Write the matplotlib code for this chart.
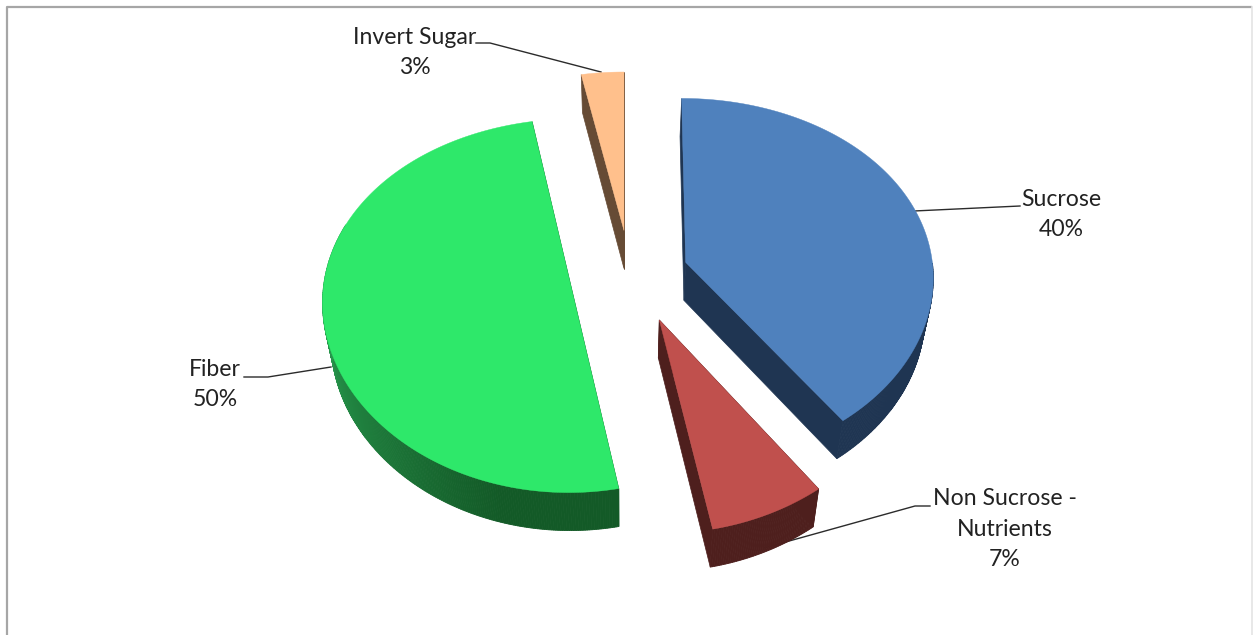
import matplotlib.pyplot as plt
import numpy as np

labels = ["Sucrose", "Non Sucrose -\nNutrients", "Fiber", "Invert Sugar"]
values = [40, 7, 50, 3]

top_colors = ["#4F81BD", "#C0504D", "#2EE86A", "#FFC08C"]
side_colors = ["#1F3552", "#4E1F1D", "#135A27", "#664B35"]
rim_light = [None, None, "#2AA052", None]

# slice offsets in the pie plane, unit = radius
offsets = [(0.25, 0.135), (0.14, -0.175), (-0.207, 0.0), (0.0, 0.315)]
label_pos = [(1061, 214.5), (1005, 529), (215, 384.5), (415, 52.5)]
leaders = [
    [(1020, 206), (914, 211)],
    [(930, 506), (915, 506), (764, 548)],
    [(244, 377), (268, 377), (331, 367)],
    [(476, 43), (490, 43), (601, 72)],
]

CX, CY = 624, 287
A, B = 249, 185
K_X, K_Y = 0.07, 0.1
DEPTH = 38
BOTTOM_SHRINK = 0.972


def project(u, v):
    """Pie plane to pixels, with a bit of perspective (far side is smaller)."""
    return CX + A * u / (1 + K_X * v), CY - B * v / (1 + K_Y * v)


def drop(x, y):
    return CX + (x - CX) * BOTTOM_SHRINK, y + DEPTH


def draw_slice(ax, start, sweep, offset, top, side, light):
    du, dv = offset
    angles = np.radians(np.linspace(start, start + sweep, int(sweep * 2) + 2))
    ax_x, ax_y = project(du, dv)
    rim_x, rim_y = project(du + np.sin(angles), dv + np.cos(angles))
    if sweep >= 180:
        # half pie: keep the cut straight, the two projections differ a bit
        ax_x, ax_y = (rim_x[0] + rim_x[-1]) / 2, (rim_y[0] + rim_y[-1]) / 2
    low_x, low_y = drop(rim_x, rim_y)
    apex_lx, apex_ly = drop(ax_x, ax_y)

    # cut faces
    for i in (0, -1):
        ax.fill(
            [ax_x, rim_x[i], low_x[i], apex_lx],
            [ax_y, rim_y[i], low_y[i], apex_ly],
            color=side,
            lw=0.5,
            zorder=2,
        )

    # outer rim, only the part facing the viewer
    side_rgb = np.array(plt.matplotlib.colors.to_rgb(side))
    light_rgb = np.array(plt.matplotlib.colors.to_rgb(light or side))
    for i in range(len(angles) - 1):
        mid = np.degrees(angles[i]) % 360
        if not 90 < mid < 290:
            continue
        # dark at the front, lighter towards the left side of the pie
        t = np.clip((mid - 195) / 75, 0, 1)
        color = side_rgb + (light_rgb - side_rgb) * t
        ax.fill(
            [rim_x[i], rim_x[i + 1], low_x[i + 1], low_x[i]],
            [rim_y[i], rim_y[i + 1], low_y[i + 1], low_y[i]],
            color=color,
            lw=0.6,
            zorder=2,
        )

    ax.fill(np.r_[ax_x, rim_x], np.r_[ax_y, rim_y], color=top, lw=0.3, zorder=3)


def main():
    plt.rcParams["font.family"] = ["Lato", "DejaVu Sans"]
    fig = plt.figure(figsize=(12.53, 6.35), dpi=100)
    ax = fig.add_axes([0, 0, 1, 1])
    ax.set_xlim(0, 1253)
    ax.set_ylim(635, 0)
    ax.axis("off")

    # chart frame (cut by the screenshot at the bottom)
    ax.plot([7, 7, 1251], [635, 6.5, 6.5], color="#A6A6A6", lw=1.6, zorder=1)
    ax.plot([1251.5, 1251.5], [6.5, 635], color="#E4E4E4", lw=1.2, zorder=1)

    sweeps = np.array(values) / sum(values) * 360
    starts = np.r_[0, np.cumsum(sweeps)[:-1]]

    for pts in leaders:
        xs, ys = zip(*pts)
        ax.plot(xs, ys, color="#2B2B2B", lw=1.0, zorder=1.5)

    for i in range(len(values)):
        draw_slice(
            ax, starts[i], sweeps[i], offsets[i], top_colors[i], side_colors[i], rim_light[i]
        )
        ax.text(
            label_pos[i][0],
            label_pos[i][1],
            f"{labels[i]}\n{values[i]}%",
            ha="center",
            va="center",
            ma="center",
            fontsize=16.6,
            linespacing=1.56,
            color="#222222",
            zorder=5,
        )

    fig.savefig("out.png", dpi=100)


main()
